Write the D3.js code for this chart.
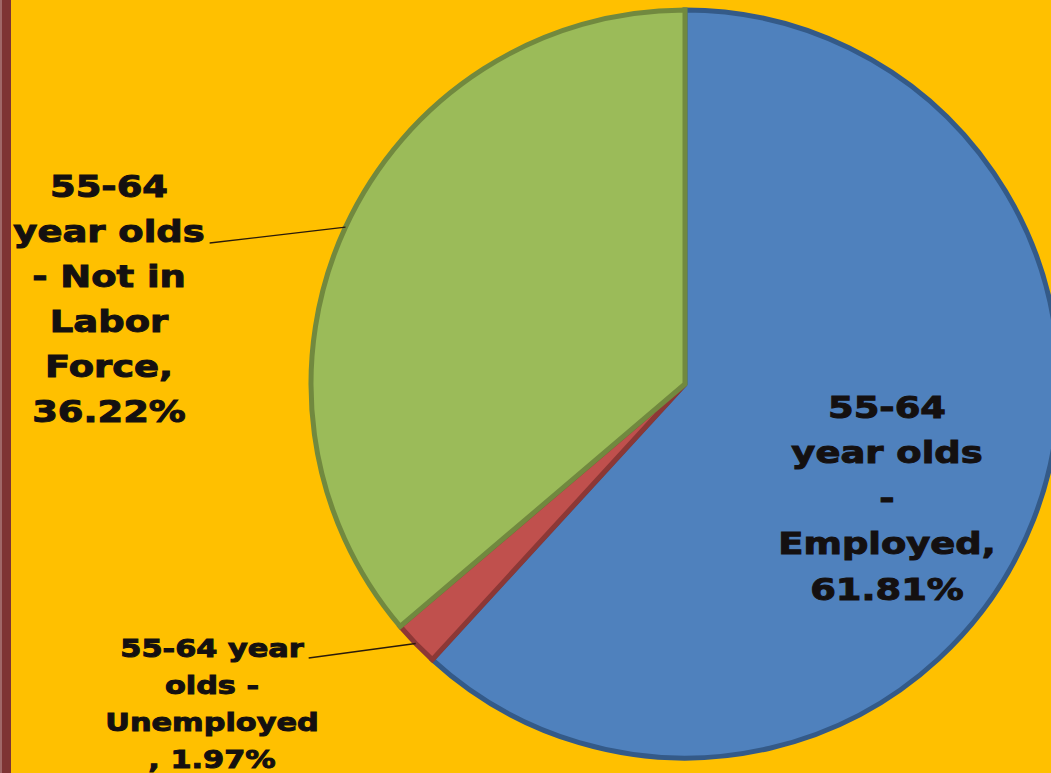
<!DOCTYPE html>
<html>
<head>
<meta charset="utf-8">
<script src="https://cdn.jsdelivr.net/npm/d3@7"></script>
<style>
  html, body { margin: 0; padding: 0; background: #FFC000; }
  svg { display: block; }
</style>
</head>
<body>
<div id="chart"></div>
<script>
// chart data
const categories = [
  "55-64 year olds - Employed",
  "55-64 year olds - Unemployed",
  "55-64 year olds - Not in Labor Force"
];
const values = [61.81, 1.97, 36.22];
const labelLines = [
  ["55-64", "year olds", "-", "Employed,", "61.81%"],
  ["55-64 year", "olds -", "Unemployed", ", 1.97%"],
  ["55-64", "year olds", "- Not in", "Labor", "Force,", "36.22%"]
];
const fills = ["#4F81BD", "#C0504D", "#9BBB59"];
const borders = ["#345A88", "#8C3836", "#71893F"];

// size
const width = 1051;
const height = 773;
const cx = 685, cy = 384, radius = 374;

// label placement (center x, first baseline, line height, font size, which line carries the leader)
const labelLayout = [
  { x: 887, y: 418, lh: 45.5, size: 31, leader: null },
  { x: 212, y: 657, lh: 37, size: 25.5, leader: 0 },
  { x: 109, y: 197, lh: 45, size: 31, leader: 1 }
];
const stretch = 1.19;

const svg = d3.select("#chart").append("svg")
  .attr("width", width)
  .attr("height", height)
  .attr("viewBox", [0, 0, width, height]);

svg.append("rect")
  .attr("width", width).attr("height", height)
  .attr("fill", "#FFC000");

// left bar
svg.append("rect").attr("x", 0).attr("y", 0).attr("width", 11).attr("height", height).attr("fill", "#7E3434");
svg.append("rect").attr("x", 0).attr("y", 0).attr("width", 2).attr("height", height).attr("fill", "#A06868");

const pie = d3.pie().sort(null).value(d => d)(values);
const arc = d3.arc().innerRadius(0).outerRadius(radius);

const g = svg.append("g").attr("transform", `translate(${cx},${cy})`);

g.selectAll("path")
  .data(pie)
  .join("path")
    .attr("d", arc)
    .attr("fill", (d, i) => fills[i])
    .attr("stroke", (d, i) => borders[i])
    .attr("stroke-width", 5)
    .attr("stroke-linejoin", "miter");

// labels
const labels = svg.append("g")
  .attr("font-family", "'DejaVu Sans', Verdana, sans-serif")
  .attr("font-weight", "bold")
  .attr("fill", "#141010")
  .attr("stroke", "#141010")
  .attr("stroke-width", 1)
  .attr("text-anchor", "middle");

pie.forEach((d, i) => {
  const lay = labelLayout[i];
  const t = labels.append("text")
    .attr("transform", `translate(${lay.x},0) scale(${stretch},1)`)
    .attr("font-size", lay.size);
  const spans = labelLines[i].map((line, j) =>
    t.append("tspan")
      .attr("x", 0)
      .attr("y", lay.y + j * lay.lh)
      .text(line)
  );

  if (lay.leader !== null) {
    const span = spans[lay.leader];
    const len = span.node().getComputedTextLength() * stretch;
    const x0 = lay.x + len / 2 + 5;
    const y0 = lay.y + lay.leader * lay.lh + 1;
    const mid = (d.startAngle + d.endAngle) / 2;
    const x1 = cx + radius * Math.sin(mid);
    const y1 = cy - radius * Math.cos(mid);
    svg.append("line")
      .attr("x1", x0).attr("y1", y0)
      .attr("x2", x1).attr("y2", y1)
      .attr("stroke", "#2a1a0a")
      .attr("stroke-width", 1.3);
  }
});
</script>
</body>
</html>
